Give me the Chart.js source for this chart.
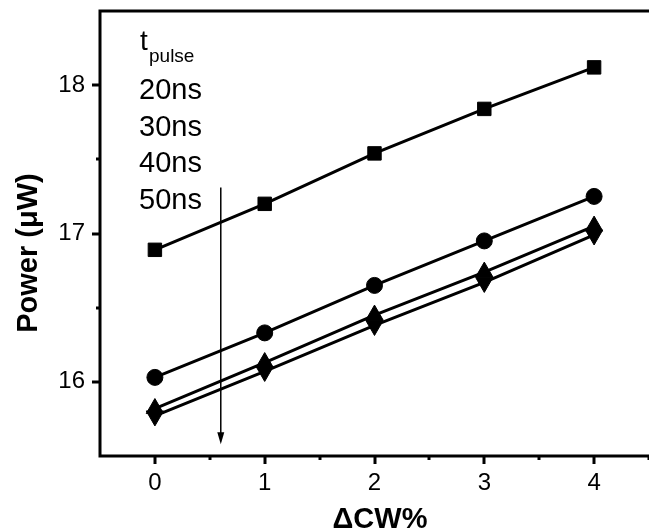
<!DOCTYPE html>
<html>
<head>
<meta charset="utf-8">
<script src="https://cdn.jsdelivr.net/npm/chart.js@4.4.0/dist/chart.umd.min.js"></script>
<style>
  html, body { margin: 0; padding: 0; background: #fff; overflow: hidden; }
  #wrap { width: 660px; height: 529px; }
</style>
</head>
<body>
<div id="wrap"><canvas id="chart" width="660" height="529"></canvas></div>
<script>
// data
var cwPercent = [0, 1, 2, 3, 4];
var pulseLabels = ["20ns", "30ns", "40ns", "50ns"];
var power20 = [16.89, 17.20, 17.54, 17.84, 18.12];
var power30 = [16.03, 16.33, 16.65, 16.95, 17.25];
var power40 = [15.82, 16.13, 16.45, 16.74, 17.05];
var power50 = [15.77, 16.07, 16.38, 16.67, 16.99];
var xTicks = [0, 1, 2, 3, 4];
var yTicks = [16, 17, 18];
// arrow annotation (x, y from, y to) in data units
var arrowX = 0.6;
var arrowY = [17.31, 15.58];

function pts(vals) {
  return cwPercent.map(function (x, i) { return { x: x, y: vals[i] }; });
}

function series(label, vals, style, radius, rot) {
  return {
    label: label,
    data: pts(vals),
    borderColor: "#000",
    backgroundColor: "#000",
    borderWidth: 3,
    pointStyle: style,
    pointRadius: radius,
    pointRotation: rot || 0,
    pointBorderWidth: 1,
    pointBackgroundColor: "#000",
    pointBorderColor: "#000",
    tension: 0
  };
}

var FONT = "'Liberation Sans', Arial, sans-serif";

// frame, tick marks, titles, legend text and arrow
var decor = {
  id: "decor",
  afterDraw: function (chart) {
    var c = chart.ctx;
    var a = chart.chartArea;
    var xs = chart.scales.x, ys = chart.scales.y;
    c.save();
    c.strokeStyle = "#000";
    c.fillStyle = "#000";

    // tick marks
    c.lineWidth = 3;
    xTicks.forEach(function (v) {
      var px = Math.round(xs.getPixelForValue(v));
      c.beginPath(); c.moveTo(px, a.bottom); c.lineTo(px, a.bottom + 8); c.stroke();
      var mx = Math.round(xs.getPixelForValue(v + 0.5));
      c.beginPath(); c.moveTo(mx, a.bottom); c.lineTo(mx, a.bottom + 4); c.stroke();
    });
    yTicks.forEach(function (v) {
      var py = Math.round(ys.getPixelForValue(v));
      c.beginPath(); c.moveTo(a.left, py); c.lineTo(a.left - 8, py); c.stroke();
      if (v + 0.5 < ys.max) {
        var my = Math.round(ys.getPixelForValue(v + 0.5));
        c.beginPath(); c.moveTo(a.left, my); c.lineTo(a.left - 4, my); c.stroke();
      }
    });

    // frame (left, top, bottom)
    c.lineWidth = 3;
    c.beginPath();
    c.moveTo(a.right, a.top);
    c.lineTo(a.left, a.top);
    c.lineTo(a.left, a.bottom);
    c.lineTo(a.right, a.bottom);
    c.stroke();

    // arrow
    var ax = xs.getPixelForValue(arrowX);
    var ay0 = ys.getPixelForValue(arrowY[0]);
    var ay1 = ys.getPixelForValue(arrowY[1]);
    c.lineWidth = 1.5;
    c.beginPath(); c.moveTo(ax, ay0); c.lineTo(ax, ay1 - 10); c.stroke();
    c.beginPath();
    c.moveTo(ax - 3.5, ay1 - 12);
    c.lineTo(ax + 3.5, ay1 - 12);
    c.lineTo(ax, ay1);
    c.closePath(); c.fill();

    // legend text
    c.textAlign = "left";
    c.textBaseline = "alphabetic";
    c.font = "28px " + FONT;
    c.fillText("t", 140, 50);
    c.font = "19px " + FONT;
    c.fillText("pulse", 149, 62);
    c.font = "29px " + FONT;
    pulseLabels.forEach(function (t, i) {
      c.fillText(t, 139, 99 + i * 36.7);
    });

    // axis titles
    c.font = "bold 29px " + FONT;
    c.textAlign = "center";
    c.textBaseline = "middle";
    c.fillText("\u0394CW%", 380, 520);
    c.save();
    c.translate(29, 253);
    c.rotate(-Math.PI / 2);
    c.fillText("Power (\u03bcW)", 0, 0);
    c.restore();

    c.restore();
  }
};

function noPad(s) {
  s.paddingTop = 0; s.paddingBottom = 0; s.paddingLeft = 0; s.paddingRight = 0;
}

var ctx = document.getElementById("chart").getContext("2d");
var myChart = new Chart(ctx, {
  type: "line",
  data: {
    datasets: [
      series(pulseLabels[0], power20, "rect", 9.5),
      series(pulseLabels[1], power30, "circle", 8),
      series(pulseLabels[2], power40, "triangle", 10),
      series(pulseLabels[3], power50, "triangle", 10, 180)
    ]
  },
  options: {
    responsive: false,
    animation: false,
    layout: { padding: { left: 0, top: 5, right: 1, bottom: 0 } },
    plugins: { legend: { display: false }, tooltip: { enabled: false } },
    scales: {
      x: {
        type: "linear",
        min: -0.5,
        max: 4.5,
        afterFit: function (s) { s.height = 73; noPad(s); },
        afterBuildTicks: function (s) { s.ticks = xTicks.map(function (v) { return { value: v }; }); },
        grid: { display: false, drawTicks: false },
        border: { display: false },
        ticks: { color: "#000", padding: 13, font: { family: FONT, size: 24 } }
      },
      y: {
        min: 15.5,
        max: 18.5,
        afterFit: function (s) { s.width = 100; noPad(s); },
        afterBuildTicks: function (s) { s.ticks = yTicks.map(function (v) { return { value: v }; }); },
        grid: { display: false, drawTicks: false },
        border: { display: false },
        ticks: { color: "#000", padding: 15, font: { family: FONT, size: 24 } }
      }
    }
  },
  plugins: [decor]
});
</script>
</body>
</html>
